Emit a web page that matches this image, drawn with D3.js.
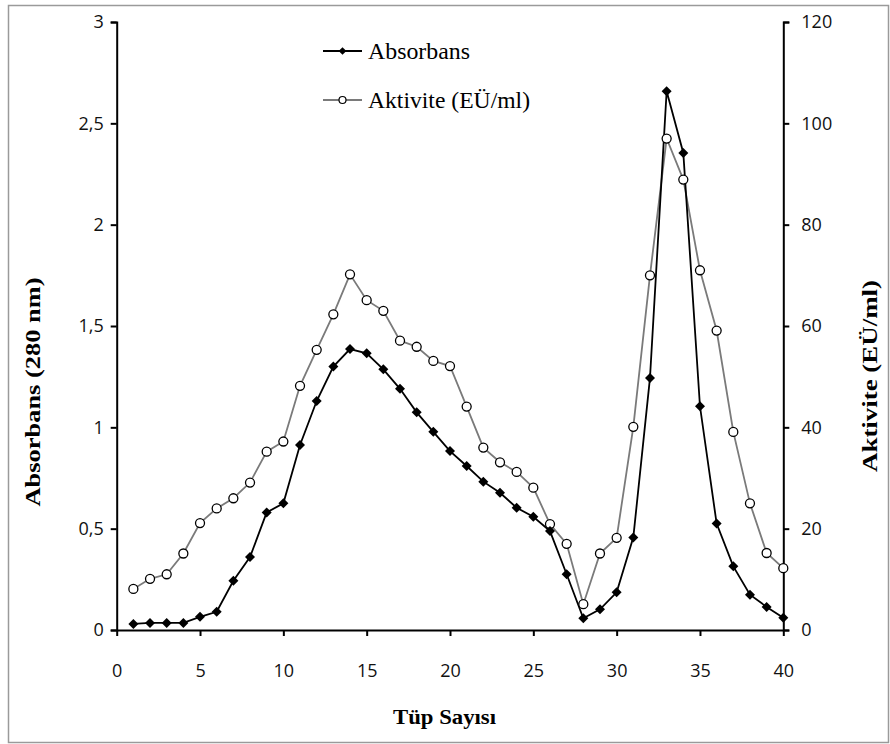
<!DOCTYPE html>
<html>
<head>
<meta charset="utf-8">
<script src="https://cdn.jsdelivr.net/npm/d3@7"></script>
<style>
  body { margin: 0; background: #fff; }
  .tick text { font-family: "Open Sans", sans-serif; font-size: 18px; fill: #111; }
  .domain, .tick line { stroke: #000; stroke-width: 2; }
</style>
</head>
<body>
<script>
var width = 890, height = 744

// tube numbers
var tubes = d3.range(1, 41)
// absorbance at 280 nm (left axis)
var absorbans = [0.03, 0.035, 0.035, 0.035, 0.065, 0.09, 0.243, 0.36, 0.58, 0.625,
  0.913, 1.13, 1.30, 1.386, 1.365, 1.286, 1.19, 1.074, 0.978, 0.883,
  0.809, 0.732, 0.677, 0.603, 0.559, 0.488, 0.275, 0.058, 0.102, 0.186,
  0.457, 1.244, 2.658, 2.354, 1.104, 0.525, 0.314, 0.174, 0.114, 0.061]
// activity EU/ml (right axis)
var aktivite = [8.1, 10.1, 11.0, 15.1, 21.1, 24.0, 26.0, 29.1, 35.2, 37.2,
  48.2, 55.3, 62.3, 70.2, 65.1, 63.0, 57.1, 55.9, 53.1, 52.1,
  44.1, 36.0, 33.1, 31.2, 28.1, 20.9, 17.0, 5.1, 15.1, 18.2,
  40.1, 70.0, 97.0, 88.9, 71.0, 59.1, 39.1, 25.0, 15.2, 12.2]
var xTicks = [0, 5, 10, 15, 20, 25, 30, 35, 40]
var leftTicks = [0, 0.5, 1, 1.5, 2, 2.5, 3]
var rightTicks = [0, 20, 40, 60, 80, 100, 120]

var x0 = 116.7, x1 = 783.3, yTop = 22, yBot = 630

var svg = d3.select("body").append("svg")
    .attr("width", width).attr("height", height)

// outer frame
svg.append("rect")
    .attr("x", 8.5).attr("y", 5.5)
    .attr("width", 880).attr("height", 737)
    .attr("fill", "none").attr("stroke", "#9a9a9a").attr("stroke-width", 1.5)

var xScale = d3.scaleLinear().domain([0, 40]).range([x0, x1])
var yLeft = d3.scaleLinear().domain([0, 3]).range([yBot, yTop])
var yRight = d3.scaleLinear().domain([0, 120]).range([yBot, yTop])

var fmt = function(d) { return String(d).replace(".", ",") }

svg.append("g").attr("transform", "translate(0," + yBot + ")")
    .call(d3.axisBottom(xScale).tickValues(xTicks).tickSizeInner(6).tickSizeOuter(0).tickPadding(28))
svg.append("g").attr("transform", "translate(" + x0 + ",0)")
    .call(d3.axisLeft(yLeft).tickValues(leftTicks).tickFormat(fmt).tickSizeInner(6).tickSizeOuter(6).tickPadding(7))
svg.append("g").attr("transform", "translate(" + x1 + ",0)")
    .call(d3.axisRight(yRight).tickValues(rightTicks).tickSizeInner(6).tickSizeOuter(6).tickPadding(12))

// activity line (gray, hollow circles)
var actLine = d3.line().x((d, i) => xScale(tubes[i])).y(d => yRight(d))
svg.append("path").datum(aktivite)
    .attr("d", actLine).attr("fill", "none")
    .attr("stroke", "#7a7a7a").attr("stroke-width", 1.8)

// absorbance line (black, diamonds)
var absLine = d3.line().x((d, i) => xScale(tubes[i])).y(d => yLeft(d))
svg.append("path").datum(absorbans)
    .attr("d", absLine).attr("fill", "none")
    .attr("stroke", "#000").attr("stroke-width", 1.8)

svg.append("g").selectAll("circle").data(aktivite)
    .enter().append("circle")
    .attr("cx", (d, i) => xScale(tubes[i]))
    .attr("cy", d => yRight(d))
    .attr("r", 4.5).attr("fill", "#fff")
    .attr("stroke", "#000").attr("stroke-width", 1.3)

var diamond = d3.symbol().type(d3.symbolSquare).size(50)
svg.append("g").selectAll("path").data(absorbans)
    .enter().append("path")
    .attr("d", diamond)
    .attr("transform", (d, i) => "translate(" + xScale(tubes[i]) + "," + yLeft(d) + ") rotate(45)")
    .attr("fill", "#000")

// legend
var lg = svg.append("g").attr("transform", "translate(323,0)")
lg.append("line").attr("x1", 0).attr("x2", 39).attr("y1", 51).attr("y2", 51)
    .attr("stroke", "#000").attr("stroke-width", 1.8)
lg.append("path").attr("d", d3.symbol().type(d3.symbolSquare).size(30))
    .attr("transform", "translate(19.5,51) rotate(45)").attr("fill", "#000")
lg.append("text").attr("x", 45).attr("y", 59)
    .attr("font-family", "Liberation Serif, serif").attr("font-size", 23)
    .attr("textLength", 102).attr("lengthAdjust", "spacingAndGlyphs")
    .text("Absorbans")
lg.append("line").attr("x1", 0).attr("x2", 39).attr("y1", 100).attr("y2", 100)
    .attr("stroke", "#7a7a7a").attr("stroke-width", 1.8)
lg.append("circle").attr("cx", 19.5).attr("cy", 100).attr("r", 3.5)
    .attr("fill", "#fff").attr("stroke", "#000").attr("stroke-width", 1.2)
lg.append("text").attr("x", 45).attr("y", 108)
    .attr("font-family", "Liberation Serif, serif").attr("font-size", 23)
    .attr("textLength", 162).attr("lengthAdjust", "spacingAndGlyphs")
    .text("Aktivite (EÜ/ml)")

// axis titles
svg.append("text")
    .attr("transform", "translate(40,392) rotate(-90)")
    .attr("text-anchor", "middle")
    .attr("font-family", "Liberation Serif, serif").attr("font-weight", "bold").attr("font-size", 21)
    .attr("textLength", 229).attr("lengthAdjust", "spacingAndGlyphs")
    .text("Absorbans (280 nm)")
svg.append("text")
    .attr("transform", "translate(877,376) rotate(-90)")
    .attr("text-anchor", "middle")
    .attr("font-family", "Liberation Serif, serif").attr("font-weight", "bold").attr("font-size", 21)
    .attr("textLength", 192).attr("lengthAdjust", "spacingAndGlyphs")
    .text("Aktivite (EÜ/ml)")
svg.append("text")
    .attr("x", 444.5).attr("y", 724)
    .attr("text-anchor", "middle")
    .attr("font-family", "Liberation Serif, serif").attr("font-weight", "bold").attr("font-size", 21)
    .attr("textLength", 103).attr("lengthAdjust", "spacingAndGlyphs")
    .text("Tüp Sayısı")
</script>
</body>
</html>
